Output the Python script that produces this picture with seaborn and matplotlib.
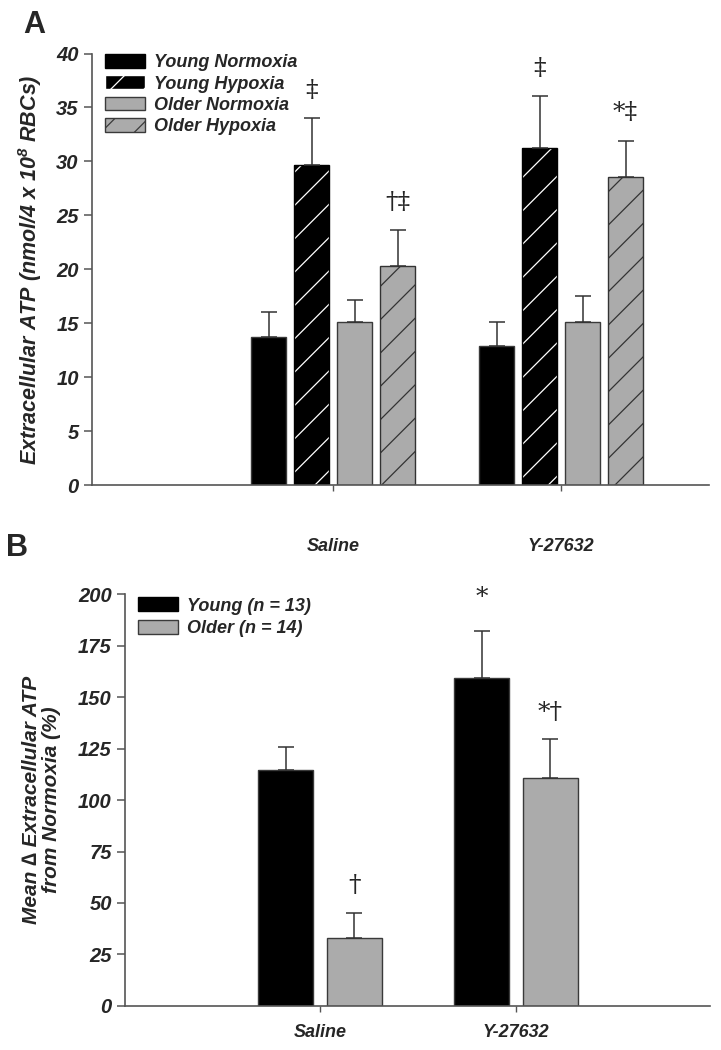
import numpy as np
import pandas as pd
import matplotlib
matplotlib.use("Agg")
import matplotlib.pyplot as plt
from matplotlib.patches import Patch, Rectangle
import seaborn as sns

# panel A data
treatments = ["Saline", "Y-27632"]
groups_a = ["Young Normoxia", "Young Hypoxia", "Older Normoxia", "Older Hypoxia"]
atp_saline = [13.7, 29.7, 15.1, 20.3]
atp_y27632 = [12.9, 31.2, 15.1, 28.6]
atp_err_saline = [2.3, 4.3, 2.1, 3.3]
atp_err_y27632 = [2.2, 4.9, 2.4, 3.3]
sig_a = ["", "\u2021", "", "\u2020\u2021", "", "\u2021", "", "*\u2021"]
sig_a_y = [0, 36.6, 0, 26.2, 0, 38.6, 0, 34.5]

# panel B data
groups_b = ["Young (n = 13)", "Older (n = 14)"]
delta_saline = [114.5, 33.0]
delta_y27632 = [159.5, 110.5]
delta_err_saline = [11.5, 12.0]
delta_err_y27632 = [22.5, 19.0]
sig_b = ["", "\u2020", "*", "*\u2020"]
sig_b_y = [0, 58.7, 198.5, 142.7]

black = "#000000"
grey = "#ababab"
edge = "#3a3a3a"

sns.set_style("ticks")
plt.rcParams["font.family"] = ["Liberation Sans", "DejaVu Sans"]
plt.rcParams["font.weight"] = "bold"
plt.rcParams["font.style"] = "italic"
plt.rcParams["mathtext.fontset"] = "custom"
plt.rcParams["mathtext.rm"] = "Liberation Sans:bold:italic"
plt.rcParams["mathtext.it"] = "Liberation Sans:bold:italic"
plt.rcParams["hatch.linewidth"] = 0.9

df_a = pd.DataFrame({
    "treatment": np.repeat(treatments, len(groups_a)),
    "group": groups_a * 2,
    "atp": atp_saline + atp_y27632,
    "err": atp_err_saline + atp_err_y27632,
})
df_b = pd.DataFrame({
    "treatment": np.repeat(treatments, len(groups_b)),
    "group": groups_b * 2,
    "delta": delta_saline + delta_y27632,
    "err": delta_err_saline + delta_err_y27632,
})

fig = plt.figure(figsize=(7.21, 10.5), dpi=100)
ax1 = fig.add_axes([0.1276, 0.538, 0.856, 0.411])
ax2 = fig.add_axes([0.1734, 0.042, 0.811, 0.392])


def style_axes(ax):
    sns.despine(ax=ax)
    for s in ["left", "bottom"]:
        ax.spines[s].set_color("#555555")
        ax.spines[s].set_linewidth(1.2)
    ax.tick_params(axis="y", direction="out", length=6, width=1.1, color="#555555",
                   labelsize=14.5)
    ax.tick_params(axis="x", direction="out", length=4, width=1, color="#555555",
                   labelsize=13)
    for lab in ax.get_xticklabels() + ax.get_yticklabels():
        lab.set_fontweight("bold")
        lab.set_fontstyle("italic")


def add_errors(ax, patches, vals, errs):
    for p, v, e in zip(patches, vals, errs):
        xc = p.get_x() + p.get_width() / 2
        ax.errorbar(xc, v, yerr=[[0], [e]], fmt="none", ecolor="#333333",
                    elinewidth=1.1, capsize=6, capthick=1.1, zorder=1)


# ---- panel A ----
pal_a = {groups_a[0]: black, groups_a[1]: black, groups_a[2]: grey, groups_a[3]: grey}
sns.barplot(data=df_a, x="treatment", y="atp", hue="group", hue_order=groups_a,
            palette=pal_a, width=0.754, gap=0.2, errorbar=None, legend=False,
            edgecolor=edge, linewidth=1, ax=ax1, saturation=1)
bars_a = ax1.patches[:8]
# seaborn orders patches by hue level, then category
patch_a = [bars_a[h * 2 + t] for t in range(2) for h in range(4)]
vals_a = atp_saline + atp_y27632
errs_a = atp_err_saline + atp_err_y27632
for i, p in enumerate(patch_a):
    h = i % 4
    if h == 1:
        p.set_hatch("/")
        p.set_edgecolor("white")
        p.set_linewidth(0)
        ax1.add_patch(Rectangle((p.get_x(), 0), p.get_width(), p.get_height(),
                                fill=False, edgecolor=black, linewidth=1, zorder=p.get_zorder()))
    elif h == 3:
        p.set_hatch("/")
        p.set_edgecolor("#333333")
add_errors(ax1, patch_a, vals_a, errs_a)
for p, s, y in zip(patch_a, sig_a, sig_a_y):
    if s:
        ax1.text(p.get_x() + p.get_width() / 2, y, s, ha="center", va="center",
                 fontsize=18, fontweight="normal", fontstyle="normal",
                 family=["DejaVu Serif"])

ax1.set_ylim(0, 40)
ax1.set_yticks(np.arange(0, 41, 5))
ax1.set_xlim(-1.057, 1.649)
ax1.set_xlabel("")
ax1.set_ylabel("Extracellular ATP (nmol/4 x 10$^{8}$ RBCs)", fontsize=15.5,
               fontweight="bold", fontstyle="italic", labelpad=9)
style_axes(ax1)
ax1.tick_params(axis="x", pad=34)

handles_a = [
    Patch(facecolor=black, edgecolor=black),
    Patch(facecolor=black, edgecolor="white", hatch="/"),
    Patch(facecolor=grey, edgecolor=edge),
    Patch(facecolor=grey, edgecolor=edge, hatch="/"),
]
ax1.legend(handles_a, groups_a, loc="upper left", bbox_to_anchor=(-0.005, 1.036),
           frameon=False, handlelength=2.2, handleheight=0.8,
           labelspacing=0.22, handletextpad=0.5,
           prop={"weight": "bold", "style": "italic", "size": 13})

# ---- panel B ----
pal_b = {groups_b[0]: black, groups_b[1]: grey}
sns.barplot(data=df_b, x="treatment", y="delta", hue="group", hue_order=groups_b,
            palette=pal_b, width=0.7, gap=0.2, errorbar=None, legend=False,
            edgecolor=edge, linewidth=1, ax=ax2, saturation=1)
bars_b = ax2.patches[:4]
patch_b = [bars_b[h * 2 + t] for t in range(2) for h in range(2)]
vals_b = delta_saline + delta_y27632
errs_b = delta_err_saline + delta_err_y27632
add_errors(ax2, patch_b, vals_b, errs_b)
for p, s, y in zip(patch_b, sig_b, sig_b_y):
    if s:
        ax2.text(p.get_x() + p.get_width() / 2, y, s, ha="center", va="center",
                 fontsize=18, fontweight="normal", fontstyle="normal",
                 family=["DejaVu Serif"])

ax2.set_ylim(0, 200)
ax2.set_yticks(np.arange(0, 201, 25))
ax2.set_xlim(-0.995, 1.99)
ax2.set_xlabel("")
ax2.set_ylabel("Mean \u2206 Extracellular ATP\nfrom Normoxia (%)", fontsize=15,
               fontweight="bold", fontstyle="italic", labelpad=12, linespacing=1.1)
style_axes(ax2)
ax2.tick_params(axis="x", pad=9)

handles_b = [Patch(facecolor=black, edgecolor=black), Patch(facecolor=grey, edgecolor=edge)]
ax2.legend(handles_b, groups_b, loc="upper left", bbox_to_anchor=(-0.005, 1.032),
           frameon=False, handlelength=2.2, handleheight=0.8,
           labelspacing=0.3, handletextpad=0.5,
           prop={"weight": "bold", "style": "italic", "size": 13})

fig.text(0.048, 0.976, "A", fontsize=22, fontweight="bold", fontstyle="normal",
         ha="center", va="center")
fig.text(0.024, 0.478, "B", fontsize=22, fontweight="bold", fontstyle="normal",
         ha="center", va="center")

fig.savefig("out.png", dpi=100)
